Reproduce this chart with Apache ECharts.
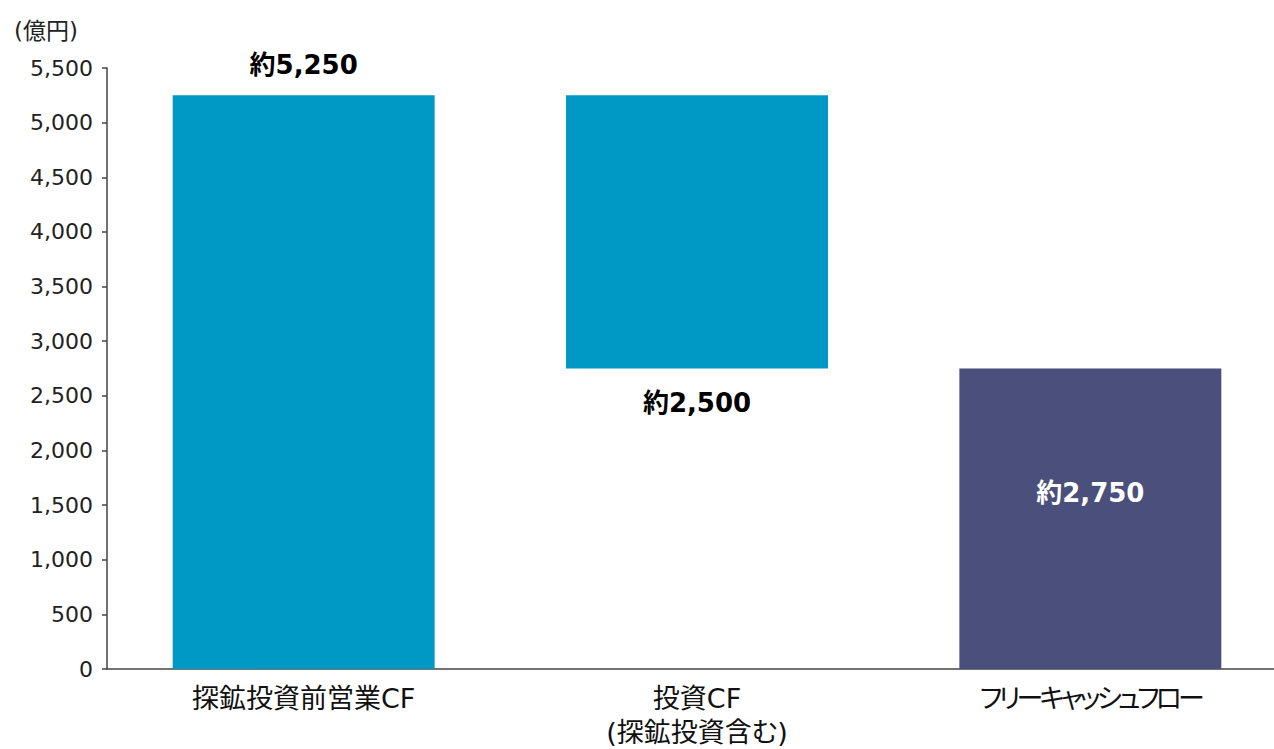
<!DOCTYPE html>
<html><head><meta charset="utf-8">
<script src="https://cdn.jsdelivr.net/npm/echarts@6/dist/echarts.min.js"></script>
<style>html,body{margin:0;padding:0;background:#fff;overflow:hidden}#c{width:1274px;height:749px}
#c svg text{font-feature-settings:"palt" 1 !important;}</style>
</head><body><div id="c"></div>
<script>
const categories = ['探鉱投資前営業CF', '投資CF\n(探鉱投資含む)', 'フリーキャッシュフロー'];
const baseValues = [0, 2750, 0];
const barValues = [5250, 2500, 2750];
const barLabels = ['約5,250', '約2,500', '約2,750'];
const yTicks = { min: 0, max: 5500, interval: 500 };
const unitLabel = '(億円)';

const FONT = '"DejaVu Sans", "Noto Sans CJK JP", sans-serif';
const colors = ['#0098C4', '#0098C4', '#4B4F7C'];
const labelPos = ['top', 'bottom', 'inside'];
const labelColor = ['#000', '#000', '#fff'];
const labelOffset = [[0, 0], [0, 0], [0, -26]];
const labelDist = [17, 21, 0];

const chart = echarts.init(document.getElementById('c'), null, { renderer: 'svg' });
chart.on('finished', () => {
  document.querySelectorAll('#c svg text').forEach(t => {
    if (/[\u30A1-\u30F6]/.test(t.textContent)) t.style.letterSpacing = '-3.8px';
  });
});
chart.setOption({
  animation: false,
  textStyle: { fontFamily: FONT },
  title: { text: unitLabel, left: 9, top: 14, textStyle: { fontFamily: FONT, fontSize: 23, fontWeight: 'normal', color: '#222' } },
  grid: { left: 107, width: 1180, top: 68, height: 601, containLabel: false, outerBoundsMode: 'none' },
  xAxis: {
    type: 'category', data: categories,
    axisLine: { lineStyle: { color: '#444', width: 1.5 } },
    axisTick: { show: false },
    axisLabel: { fontSize: 27, color: '#111', margin: 12, lineHeight: 34, fontFamily: FONT }
  },
  yAxis: {
    type: 'value', min: yTicks.min, max: yTicks.max, interval: yTicks.interval,
    axisLine: { show: true, lineStyle: { color: '#444', width: 1.5 } },
    axisTick: { show: true, length: 5, lineStyle: { color: '#444', width: 1.5 } },
    splitLine: { show: false },
    axisLabel: { fontSize: 22, color: '#222', margin: 14, fontFamily: FONT,
      formatter: v => v.toLocaleString('en-US') }
  },
  series: [
    { type: 'bar', stack: 'w', barWidth: '66.6%', silent: true,
      itemStyle: { color: 'transparent' }, data: baseValues },
    { type: 'bar', stack: 'w', barWidth: '66.6%',
      data: barValues.map((v, i) => ({
        value: v,
        itemStyle: { color: colors[i] },
        label: { show: true, position: labelPos[i], offset: labelOffset[i], distance: labelDist[i],
          formatter: barLabels[i], color: labelColor[i], fontSize: 26, fontWeight: 'bold', fontFamily: FONT }
      }))
    }
  ]
});
</script></body></html>
